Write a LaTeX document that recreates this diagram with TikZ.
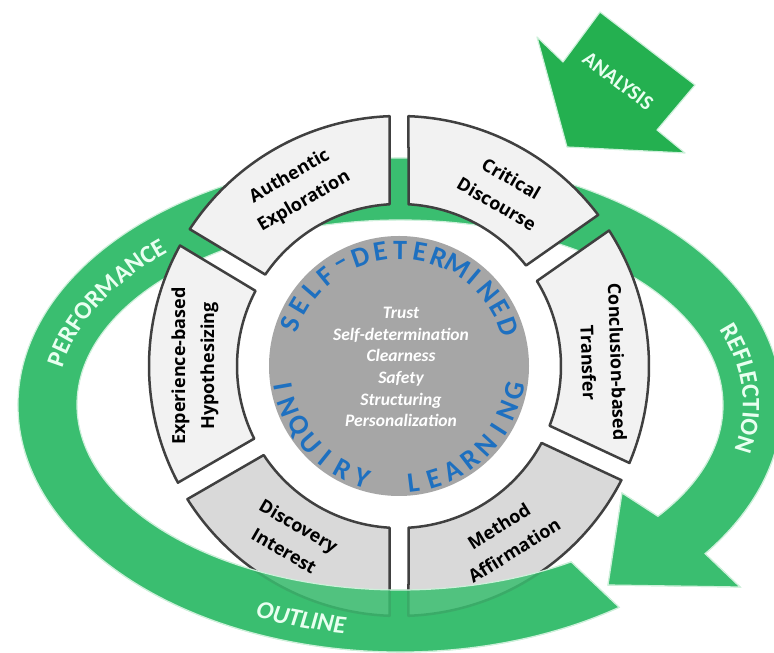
\documentclass[tikz,border=0pt]{standalone}
\usepackage{fontspec}
\setmainfont{Carlito}
\newfontfamily\labelfont{Open Sans}
\usetikzlibrary{calc,decorations.text}

\definecolor{bandgreen}{RGB}{58,190,112}
\definecolor{bandedge}{RGB}{205,240,218}
\definecolor{arrowgreen}{RGB}{36,176,80}
\definecolor{segline}{RGB}{64,64,64}
\definecolor{seglight}{RGB}{242,242,242}
\definecolor{segdark}{RGB}{217,217,217}
\definecolor{corefill}{RGB}{166,166,166}
\definecolor{coreblue}{RGB}{30,112,192}
\definecolor{mint}{RGB}{232,255,240}

\tikzset{
	segment/.style={draw=segline, line width=2.5, line join=round},
	seglabel/.style={font=\labelfont\bfseries\fontsize{18}{29}\selectfont, align=center, text=black},
	coretext/.style={font=\bfseries\itshape\fontsize{17.5}{21.7}\selectfont, align=center, text=white},
	coreletter/.style={font=\bfseries\fontsize{28}{28}\selectfont, text=coreblue, inner sep=0pt},
	band/.style={insert path={
		($(E)+(-55:382 and 247)$) arc[start angle=-55, end angle=-397, x radius=382, y radius=247]
		-- (740,66) -- (608,68) -- (622,160)
		-- ($(E)+(-397:323 and 185)$) arc[start angle=-397, end angle=-58, x radius=323, y radius=185] -- cycle}}
}

% one part of the ring: from angle, to angle, fill
\newcommand{\ringpart}[3]{%
	\pgfmathsetmacro{\oa}{asin(9.5/250)}%
	\pgfmathsetmacro{\ia}{asin(9.5/162)}%
	\draw[segment, fill=#3] ($(C)+(#1+\oa:250)$) arc[start angle=#1+\oa, end angle=#2-\oa, radius=250]
		-- ($(C)+(#2-\ia:162)$) arc[start angle=#2-\ia, end angle=#1+\ia, radius=162] -- cycle;
}

\begin{document}
\begin{tikzpicture}[x=1pt, y=1pt]
	%\draw[help lines] (0,0) grid[step=50] (774,653);
	\useasboundingbox (0,0) rectangle (774,653);
	\clip (0,0) rectangle (774,653);
	
	\coordinate (E) at (400,248);
	\coordinate (C) at (399,287);
	
	% cycle arrow
	\fill[bandgreen, draw=bandedge, line width=1.2, band];
	
	% analysis arrow
	\fill[arrowgreen, draw=bandedge, line width=1.2, line join=round]
		(537,616) -- (563,591) -- (600,641) -- (695,568) -- (657,523) -- (685,500) -- (567,506) -- cycle;
	\node[font=\bfseries\fontsize{21}{21}\selectfont, text=mint, rotate=-37] (analysis) at (618,572) {ANALYSIS};
	
	% ring
	\ringpart{35}{90}{seglight}
	\ringpart{90}{149}{seglight}
	\ringpart{149}{210}{seglight}
	\ringpart{210}{270}{segdark}
	\ringpart{270}{335}{segdark}
	\ringpart{335}{395}{seglight}
	
	% front part of the cycle arrow
	\begin{scope}
		\clip (0,0) rectangle (774,200);
		\fill[bandgreen, fill opacity=0.85, draw=bandedge, line width=1.2, band];
	\end{scope}
	
	\path[decorate, decoration={text along path, text align=center,
		text={|\bfseries\fontsize{25}{25}\selectfont\color{mint}|PERFORMANCE}}]
		($(E)+(182:343 and 207)$) arc[start angle=182, end angle=124, x radius=343, y radius=207];
	\path[decorate, decoration={text along path, text align=center,
		text={|\bfseries\fontsize{25}{25}\selectfont\color{mint}|REFLECTION}}]
		($(E)+(32:343 and 207)$) arc[start angle=32, end angle=-24, x radius=343, y radius=207];
	\path[decorate, decoration={text along path, text align=center,
		text={|\bfseries\itshape\fontsize{25}{25}\selectfont\color{mint}|OUTLINE}}]
		($(E)+(227:364 and 231)$) arc[start angle=227, end angle=279, x radius=364, y radius=231];
	
	% core
	\fill[corefill] (C) circle[radius=130];
	\node[coretext] (values) at (401,286) {Trust\\Self-determination\\Clearness\\Safety\\Structuring\\Personalization};
	\foreach \ch [count=\i from 0] in {S,E,L,F,\textendash,D,E,T,E,R,M,I,N,E,D}
		\node[coreletter, rotate=159-\i*9.93-90] (top\i) at ($(C)+(159-\i*9.93:116)$) {\ch};
	\foreach \ch [count=\i from 0] in {I,N,Q,U,I,R,Y}
		\node[coreletter, rotate=190+\i*10.3+90] (inq\i) at ($(C)+(190+\i*10.3:118)$) {\ch};
	\foreach \ch [count=\i from 0] in {L,E,A,R,N,I,N,G}
		\node[coreletter, rotate=277+\i*10.1+90] (lrn\i) at ($(C)+(277+\i*10.1:118)$) {\ch};
	
	% ring labels
	\node[seglabel, rotate=-30] (critical) at ($(C)+(59:204)$) {Critical\\Discourse};
	\node[seglabel, rotate=30] (authentic) at ($(C)+(120:204)$) {Authentic\\Exploration};
	\node[seglabel, rotate=90] (experience) at ($(C)+(180:204)$) {Experience-based\\Hypothesizing};
	\node[seglabel, rotate=-30] (discovery) at ($(C)+(238:203)$) {Discovery\\Interest};
	\node[seglabel, rotate=32] (method) at ($(C)+(302:203)$) {Method\\Affirmation};
	\node[seglabel, rotate=-88] (conclusion) at ($(C)+(1:204)$) {Conclusion-based\\Transfer};
\end{tikzpicture}
\end{document}
